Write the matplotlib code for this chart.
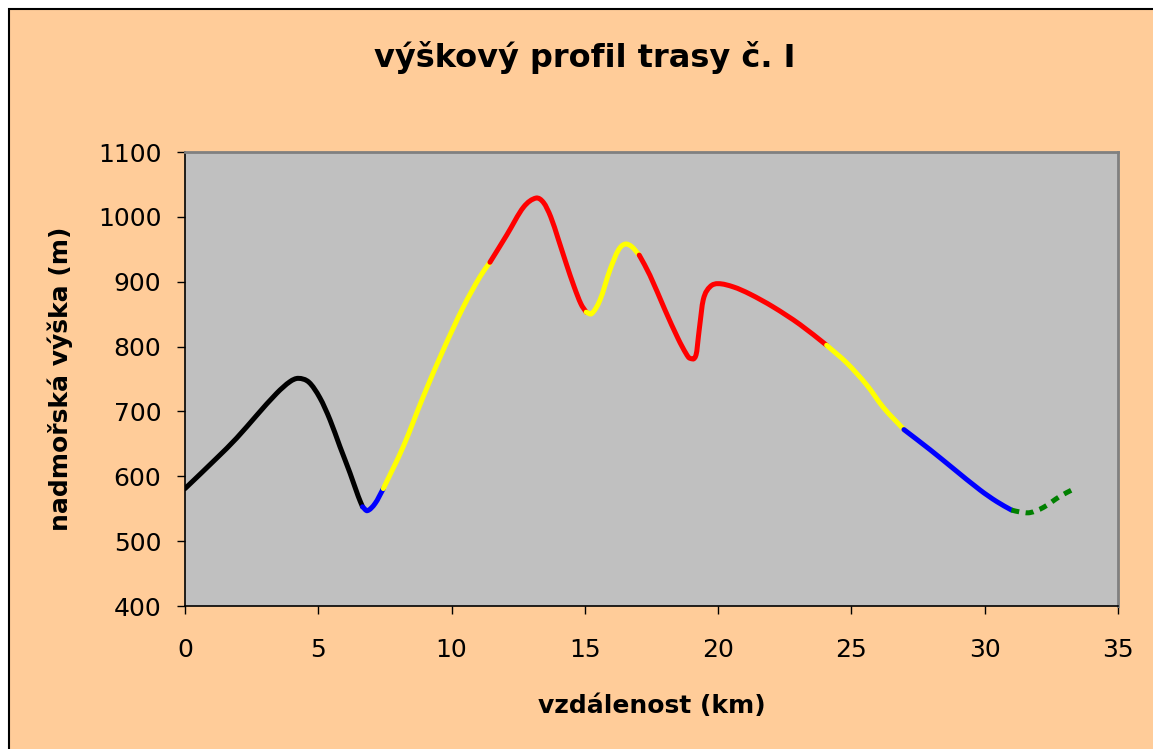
import matplotlib
matplotlib.use("Agg")
import matplotlib.pyplot as plt
from matplotlib.path import Path
from matplotlib.patches import PathPatch, Rectangle

plt.rcParams['font.family'] = ['DejaVu Sans']

# track segments (km, m) - each segment coloured by difficulty
black_x = [0, 1.19, 1.94, 2.69, 3.44, 3.94, 4.25, 4.65, 5.06, 5.44, 5.81, 6.19, 6.5, 6.66]
black_y = [581, 628, 659, 694, 728, 746, 751, 745, 721, 687, 646, 605, 569, 553]

blue1_x = [6.66, 6.84, 7.13, 7.44]
blue1_y = [553, 547, 558, 581]

yellow1_x = [7.44, 8.19, 8.94, 9.69, 10.44, 11.07, 11.44]
yellow1_y = [581, 646, 723, 795, 861, 908, 930]

red1_x = [11.44, 12.07, 12.7, 13.17, 13.45, 13.72, 14.0, 14.3, 14.6, 14.85, 15.05]
red1_y = [930, 972, 1015, 1029, 1022, 1000, 966, 928, 892, 866, 853]

yellow2_x = [15.05, 15.26, 15.57, 15.94, 16.26, 16.51, 16.76, 17.04]
yellow2_y = [853, 851, 872, 918, 949, 958, 954, 941]

red2_x = [17.04, 17.44, 18.0, 18.5, 18.8, 18.94, 19.17, 19.29, 19.44, 19.69, 20.0, 20.57, 21.19, 22.07, 23.07, 24.07]
red2_y = [941, 910, 857, 812, 789, 782, 787, 826, 872, 892, 897, 892, 881, 861, 834, 802]

yellow3_x = [24.07, 24.82, 25.57, 26.2, 26.97]
yellow3_y = [802, 775, 741, 706, 672]

blue2_x = [26.97, 27.95, 28.82, 29.82, 30.45, 31.0]
blue2_y = [672, 641, 612, 579, 561, 548]

green_x = [31.0, 31.32, 31.7, 32.2, 32.82, 33.32]
green_y = [548, 545, 544, 552, 569, 580]

xticks = [0, 5, 10, 15, 20, 25, 30, 35]
yticks = [400, 500, 600, 700, 800, 900, 1000, 1100]


def smooth_path(xs, ys):
    # smoothed line like excel: cubic bezier pieces through the points
    n = len(xs)
    m = []
    for i in range(n):
        a = max(i - 1, 0)
        b = min(i + 1, n - 1)
        m.append((ys[b] - ys[a]) / (xs[b] - xs[a]))
    verts = [(xs[0], ys[0])]
    codes = [Path.MOVETO]
    for i in range(n - 1):
        h = xs[i + 1] - xs[i]
        verts += [(xs[i] + h / 3, ys[i] + m[i] * h / 3),
                  (xs[i + 1] - h / 3, ys[i + 1] - m[i + 1] * h / 3),
                  (xs[i + 1], ys[i + 1])]
        codes += [Path.CURVE4] * 3
    return Path(verts, codes)


fig = plt.figure(figsize=(11.53, 7.49), dpi=100, facecolor='white')

# chart area background with border
fig.patches.append(Rectangle((9 / 1153, -0.1), 1.2, 1.1 - 9 / 749, transform=fig.transFigure,
                             facecolor='#FFCC99', edgecolor='black', linewidth=1.5, zorder=-10))

ax = fig.add_axes([185 / 1153, 1 - 606 / 749, 933 / 1153, 454 / 749])
ax.set_facecolor('#C0C0C0')

segments = [
    (black_x, black_y, 'black', '-'),
    (blue1_x, blue1_y, '#0000FF', '-'),
    (yellow1_x, yellow1_y, '#FFFF00', '-'),
    (red1_x, red1_y, '#FF0000', '-'),
    (yellow2_x, yellow2_y, '#FFFF00', '-'),
    (red2_x, red2_y, '#FF0000', '-'),
    (yellow3_x, yellow3_y, '#FFFF00', '-'),
    (blue2_x, blue2_y, '#0000FF', '-'),
    (green_x, green_y, '#008000', (0, (1.6, 1.3))),
]
for xs, ys, col, ls in segments:
    patch = PathPatch(smooth_path(xs, ys), facecolor='none', edgecolor=col, linewidth=3.6,
                      linestyle=ls, capstyle='round' if ls == '-' else 'butt', joinstyle='round')
    ax.add_patch(patch)

ax.set_xlim(0, 35)
ax.set_ylim(400, 1100)
ax.set_xticks(xticks)
ax.set_yticks(yticks)
ax.tick_params(axis='both', direction='out', length=6, width=1, labelsize=18, colors='black')
ax.tick_params(axis='x', pad=17)
ax.tick_params(axis='y', pad=11)

for s in ['left', 'bottom']:
    ax.spines[s].set_color('black')
    ax.spines[s].set_linewidth(1.2)
for s in ['top', 'right']:
    ax.spines[s].set_color('#808080')
    ax.spines[s].set_linewidth(2)

ax.set_xlabel('vzdálenost (km)', fontsize=18, fontweight='bold', labelpad=23)
ax.set_ylabel('nadmořská výška (m)', fontsize=18, fontweight='bold', labelpad=18)

fig.text(585 / 1153, 1 - 57 / 749, 'výškový profil trasy č. I', fontsize=23, fontweight='bold',
         ha='center', va='center')

fig.savefig('out.png', dpi=100, facecolor=fig.get_facecolor())
